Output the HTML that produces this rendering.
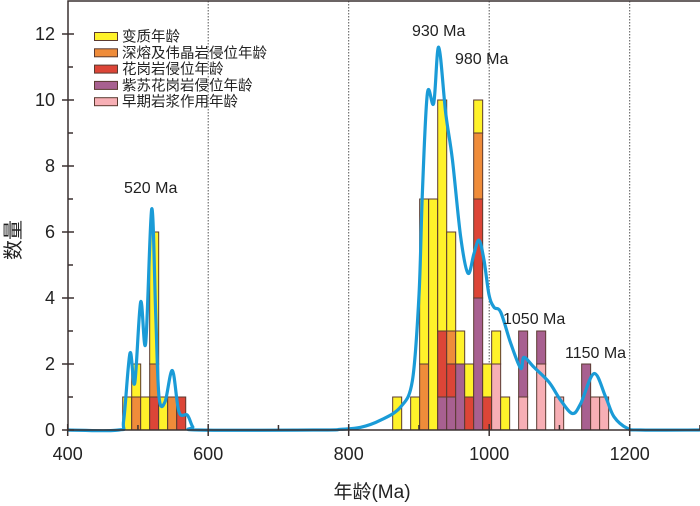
<!DOCTYPE html>
<html><head><meta charset="utf-8"><style>
body{margin:0;background:#fff}
svg{display:block;font-family:"Liberation Sans","Noto Sans CJK SC",sans-serif}
</style></head><body>
<svg id="chart" width="700" height="506" xmlns="http://www.w3.org/2000/svg">
<g id="grid"></g>
<g id="bars"></g>
<path id="kde" fill="none" stroke="#1a9bd7" stroke-width="3.2" stroke-linejoin="round"/>
<g id="axes"></g>
<g font-size="16" fill="#222">
<text x="124" y="193">520 Ma</text>
<text x="412" y="36">930 Ma</text>
<text x="455" y="64">980 Ma</text>
<text x="503" y="324">1050 Ma</text>
<text x="565" y="358">1150 Ma</text>
</g>
<text x="20" y="240" font-size="20" fill="#222" text-anchor="middle" transform="rotate(-90 20 240)">数量</text>
<text x="372" y="498" font-size="19" fill="#222" text-anchor="middle">年龄(Ma)</text>
<g id="legend"></g>
</svg>
<script>
const binStarts=[478.3,491.1,503.9,516.7,529.5,542.3,555.2,862.6,888.2,901.0,913.8,926.7,939.5,952.3,965.1,977.9,990.7,1003.5,1016.3,1041.9,1067.6,1093.2,1131.6,1144.4,1157.2];
const purple=[0,0,0,0,0,0,0,0,0,0,0,1,1,2,0,4,0,0,0,2,1,0,2,0,0];
const red   =[0,0,0,1,0,0,1,0,0,0,0,2,1,0,1,3,1,0,0,0,0,0,0,0,0];
const orange=[0,1,0,1,0,1,0,0,0,2,0,0,1,0,0,2,0,0,0,0,0,0,0,0,0];
const pink  =[0,0,0,0,0,0,0,0,0,0,0,0,0,0,0,0,0,2,0,1,2,1,0,1,1];
const yellow=[1,1,1,4,1,0,0,1,1,5,7,7,3,1,1,1,1,1,1,0,0,0,0,0,0];
const kdeAge=[400,760,788.6,817,845.6,874,890.7,900.1,904.9,912,921,928.1,938.1,947.6,959.4,969.8,978.4,985.5,992.6,999.7,1006.8,1016.4,1030.6,1044.8,1049.5,1063.8,1085.1,1101.8,1118.4,1130.2,1149.2,1165.8,1177.7,1196.7,1215.6,1300];
const kdeVal=[0,0,0.02,0.08,0.3,0.7,1.5,4.1,7.2,10.2,9.9,11.6,9.6,8.2,5.85,4.75,5.35,5.75,5.15,4.1,3.72,3.57,2.63,1.87,2.2,1.9,1.45,0.9,0.5,0.8,1.71,1.0,0.4,0.05,0,0];
const kdeAgeL=[400,472.6,479.7,488.7,495.4,503.9,511,519.6,525.3,530,538.5,549,558.4,570.4,577.9,586.5];
const kdeValL=[0,0,0.3,2.33,1.42,3.88,2.63,6.7,3.5,1.0,0.85,1.8,0.55,0.45,0.1,0];
const xTicks=[400,600,800,1000,1200];
const yTicks=[0,2,4,6,8,10,12];
const legendLabels=["变质年龄","深熔及伟晶岩侵位年龄","花岗岩侵位年龄","紫苏花岗岩侵位年龄","早期岩浆作用年龄"];
const binWidth=12.81;

const NS="http://www.w3.org/2000/svg";
const X=a=>67.7+(a-400)*0.7025;
const Y=v=>430-v*33;
function mk(tag,attrs,parent){const e=document.createElementNS(NS,tag);for(const k in attrs)e.setAttribute(k,attrs[k]);parent.appendChild(e);return e;}
const grid=document.getElementById('grid'),bars=document.getElementById('bars'),axes=document.getElementById('axes'),legend=document.getElementById('legend');
[600,800,1000,1200].forEach(t=>{const l=mk('line',{x1:X(t),x2:X(t),y1:1,y2:430,stroke:'#555','stroke-width':1,'stroke-dasharray':'1.5,1.5'},grid);

});
const series=[[pink,'#f7afb5','pink'],[purple,'#a86090','purple'],[red,'#dc4537','red'],[orange,'#ef8c3a','orange'],[yellow,'#fff22a','yellow']];
binStarts.forEach((b,i)=>{let base=0;series.forEach(([arr,col,nm])=>{const v=arr[i];if(!v)return;
const r=mk('rect',{x:X(b),y:Y(base+v),width:X(b+binWidth)-X(b),height:Y(base)-Y(base+v),fill:col,stroke:'#5a3a30','stroke-width':1},bars);


base+=v;});});
function cr(ax,vs){const p=ax.map((a,i)=>[X(a),Y(vs[i])]);let d='M'+p[0][0]+','+p[0][1];
for(let i=0;i<p.length-1;i++){const p0=p[i-1]||p[i],p1=p[i],p2=p[i+1],p3=p[i+2]||p2;
d+=' C'+(p1[0]+(p2[0]-p0[0])/6)+','+(p1[1]+(p2[1]-p0[1])/6)+' '+(p2[0]-(p3[0]-p1[0])/6)+','+(p2[1]-(p3[1]-p1[1])/6)+' '+p2[0]+','+p2[1];}return d;}
const la=kdeAgeL.concat(kdeAge.slice(1)),lv=kdeValL.concat(kdeVal.slice(1));
document.getElementById('kde').setAttribute('d',cr(la,lv));
mk('path',{d:'M68,430 V1 H700 M68,430 H700',fill:'none',stroke:'#3a3030','stroke-width':1.5},axes);
yTicks.forEach(t=>{mk('line',{x1:62,x2:74,y1:Y(t),y2:Y(t),stroke:'#3a3030','stroke-width':1.5},axes);
if(t<12)mk('line',{x1:68,x2:73,y1:Y(t+1),y2:Y(t+1),stroke:'#3a3030','stroke-width':1.5},axes);
const tx=mk('text',{x:55,y:Y(t)+6,'font-size':18,'text-anchor':'end',fill:'#222'},axes);tx.textContent=t;

});
xTicks.forEach(t=>{mk('line',{x1:X(t),x2:X(t),y1:424,y2:436,stroke:'#3a3030','stroke-width':1.5},axes);
mk('line',{x1:X(t+100),x2:X(t+100),y1:425,y2:430,stroke:'#3a3030','stroke-width':1.5},axes);
const tx=mk('text',{x:X(t),y:460,'font-size':18,'text-anchor':'middle',fill:'#222'},axes);tx.textContent=t;

});
const lc=['#fff22a','#ef8c3a','#dc4537','#a86090','#f7afb5'];
legendLabels.forEach((s,i)=>{const y=32.5+i*16.3;
const g=mk('g',{},legend);


mk('rect',{x:94.5,y:y,width:23,height:8,fill:lc[i],stroke:'#5a3a30','stroke-width':1},g);
const t=mk('text',{x:122,y:y+9,'font-size':14.5,fill:'#222'},g);t.textContent=s;});
</script>
</body></html>
